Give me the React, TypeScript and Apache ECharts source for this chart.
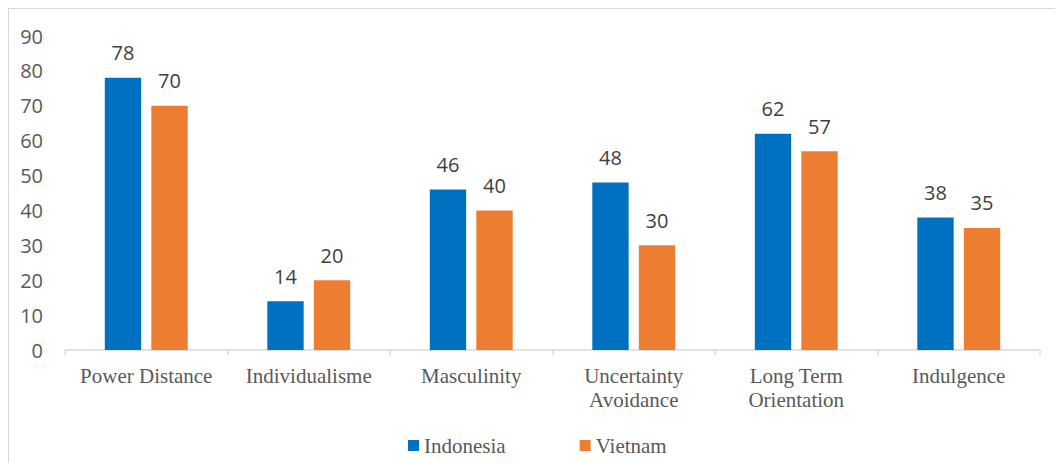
import React, { useEffect, useRef } from "react";
import * as echarts from "echarts";

const categories = ["Power Distance", "Individualisme", "Masculinity", "Uncertainty\nAvoidance", "Long Term\nOrientation", "Indulgence"];
const indonesia = [78, 14, 46, 48, 62, 38];
const vietnam = [70, 20, 40, 30, 57, 35];
const seriesNames = ["Indonesia", "Vietnam"];

const SERIF = "'Liberation Serif', 'Times New Roman', serif";
const SANS = "'Open Sans', sans-serif";

export default function App() {
  const ref = useRef<HTMLDivElement>(null);
  useEffect(() => {
    const chart = echarts.init(ref.current!, null, { renderer: "svg" });
    const labelStyle = {
      show: true,
      position: "top" as const,
      distance: 15,
      fontFamily: SANS,
      fontSize: 20,
      color: "#404040",
    };
    chart.setOption({
      animation: false,
      backgroundColor: "#ffffff",
      textStyle: { fontFamily: SERIF },
      graphic: [
        { type: "line", shape: { x1: 0, y1: 0, x2: 1063, y2: 0 }, style: { stroke: "#d9d9d9", lineWidth: 2 } },
        { type: "line", shape: { x1: 0, y1: 0, x2: 0, y2: 463 }, style: { stroke: "#d9d9d9", lineWidth: 2 } },
      ],
      grid: { left: 57, right: 23, top: 28, bottom: 115, containLabel: false },
      legend: {
        data: seriesNames,
        bottom: 4,
        left: 395,
        itemWidth: 11,
        itemHeight: 11,
        itemGap: 74,
        icon: "rect",
        textStyle: { fontFamily: SERIF, fontSize: 21, color: "#595959" },
      },
      xAxis: {
        type: "category",
        data: categories,
        axisLine: { lineStyle: { color: "#d9d9d9", width: 1.5 } },
        axisTick: { show: true, alignWithLabel: false, length: 5, lineStyle: { color: "#d9d9d9", width: 1.5 } },
        axisLabel: {
          fontFamily: SERIF,
          fontSize: 21,
          color: "#595959",
          margin: 14,
          lineHeight: 24,
          interval: 0,
        },
      },
      yAxis: {
        type: "value",
        min: 0,
        max: 90,
        interval: 10,
        splitLine: { show: false },
        axisLine: { show: false },
        axisTick: { show: false },
        axisLabel: { fontFamily: SANS, fontSize: 20, color: "#595959", margin: 22 },
      },
      series: [
        {
          name: seriesNames[0],
          type: "bar",
          data: indonesia,
          itemStyle: { color: "#0070c0" },
          barGap: "28%",
          barCategoryGap: "49%",
          label: labelStyle,
        },
        {
          name: seriesNames[1],
          type: "bar",
          data: vietnam,
          itemStyle: { color: "#ed7d31" },
          label: labelStyle,
        },
      ],
    });
    return () => chart.dispose();
  }, []);
  return <div ref={ref} style={{ width: 1055, height: 457 }} />;
}
